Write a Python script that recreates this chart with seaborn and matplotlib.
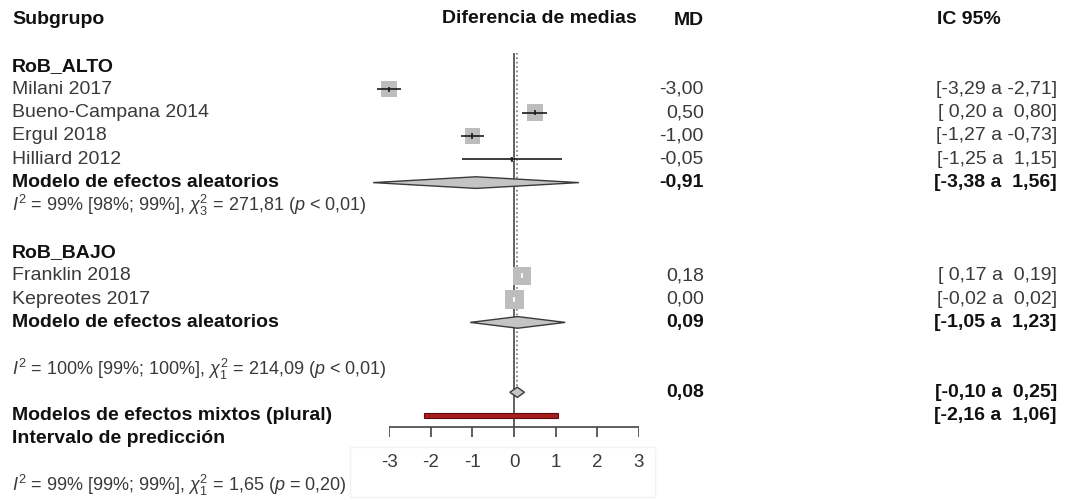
import numpy as np
import pandas as pd
import seaborn as sns
import matplotlib.pyplot as plt
from matplotlib.patches import Polygon, Rectangle
from matplotlib.transforms import blended_transform_factory

# study level data
studies = ["Milani 2017", "Bueno-Campana 2014", "Ergul 2018", "Hilliard 2012",
           "Franklin 2018", "Kepreotes 2017"]
subgroup = ["RoB_ALTO", "RoB_ALTO", "RoB_ALTO", "RoB_ALTO", "RoB_BAJO", "RoB_BAJO"]
md = [-3.00, 0.50, -1.00, -0.05, 0.18, 0.00]
ci_lo = [-3.29, 0.20, -1.27, -1.25, 0.17, -0.02]
ci_hi = [-2.71, 0.80, -0.73, 1.15, 0.19, 0.02]

# pooled estimates per subgroup
groups = ["RoB_ALTO", "RoB_BAJO"]
pooled_md = [-0.91, 0.09]
pooled_lo = [-3.38, -1.05]
pooled_hi = [1.56, 1.23]
het_text = [r"$I^2$ = 99% [98%; 99%], $\chi^2_3$ = 271,81 ($p$ < 0,01)",
            r"$I^2$ = 100% [99%; 100%], $\chi^2_1$ = 214,09 ($p$ < 0,01)"]

# overall model + prediction interval
overall_md, overall_lo, overall_hi = 0.08, -0.10, 0.25
pred_lo, pred_hi = -2.16, 1.06
overall_het = r"$I^2$ = 99% [99%; 99%], $\chi^2_1$ = 1,65 ($p$ = 0,20)"
xticks = [-3, -2, -1, 0, 1, 2, 3]

# box side in pixels (study weight)
box_px = [16, 16.5, 15.5, 4, 18, 19]

W, H = 1065, 500
ROW0, ROWH = 19.5, 23.3          # pixel y of row 0, row height
PX_PER_UNIT = 250 / 6


def fmt(v):
    return f"{v:.2f}".replace(".", ",")


def fmt_ci(lo, hi):
    return ("[" + f"{lo:5.2f} a {hi:5.2f}" + "]").replace(".", ",")


sns.set_style("white")
plt.rcParams["font.family"] = ["Liberation Sans", "DejaVu Sans"]
plt.rcParams["mathtext.fontset"] = "custom"
plt.rcParams["mathtext.rm"] = "Liberation Sans"
plt.rcParams["mathtext.it"] = "Liberation Sans:italic"

fig = plt.figure(figsize=(W / 100, H / 100), dpi=100)
ax = fig.add_axes([389 / W, 0, 250 / W, 1])
ax.set_xlim(-3, 3)
ax.set_ylim((H - ROW0) / ROWH, -ROW0 / ROWH)
ax.axis("off")

tr = blended_transform_factory(fig.transFigure, ax.transData)
REG = dict(fontsize=14, color="#3a3a3a", transform=tr, va="center")
BOLD = dict(fontsize=14, color="#111111", fontweight="bold", transform=tr, va="center")
SMALL = dict(fontsize=13, color="#3a3a3a", transform=tr, va="center")

X_LAB, X_MD, X_CI = 12 / W, 704 / W, 1057 / W

# headers
ax.text(X_LAB, 0, "Subgrupo", ha="left", **BOLD)
ax.text(539 / W, -0.05, "Diferencia de medias", ha="center", **BOLD)
ax.text(X_MD, 0.05, "MD", ha="right", **BOLD)
ax.text(937 / W, 0, "IC 95%", ha="left", **BOLD)

# layout rows
rows = []
pooled_rows = []
het_rows = []
r = 2
for gi, g in enumerate(groups):
    ax.text(X_LAB, r, g, ha="left", **BOLD)
    r += 1
    for i, s in enumerate(subgroup):
        if s == g:
            rows.append(r)
            r += 1
    pooled_rows.append(r)
    het_rows.append(r + 1 if gi == 0 else r + 2)
    r = r + 3
overall_row = het_rows[-1] + 1
pred_row = overall_row + 1
axis_row = pred_row + 0.5

df = pd.DataFrame({"study": studies, "md": md, "lo": ci_lo, "hi": ci_hi,
                   "row": rows, "area": [(p * 0.72) ** 2 for p in box_px]})

# study boxes
sns.scatterplot(data=df, x="md", y="row", marker="s", size="area",
                sizes={a: a for a in df["area"]}, color="#bdbdbd",
                linewidth=0, legend=False, ax=ax, zorder=3, clip_on=False)
for _, d in df.iterrows():
    half = d["area"] ** 0.5 / 0.72 / 2 / PX_PER_UNIT
    inside = (d["lo"] > d["md"] - half) and (d["hi"] < d["md"] + half)
    c = "white" if inside else "#1a1a1a"
    ax.hlines(d["row"], d["lo"], d["hi"], color=c, lw=1.2, zorder=4, clip_on=False)
    ax.vlines(d["md"], d["row"] - 0.11, d["row"] + 0.11, color=c, lw=1.2,
              zorder=4, clip_on=False)
    ax.text(X_MD, d["row"], fmt(d["md"]), ha="right", **REG)
    ax.text(X_CI, d["row"], fmt_ci(d["lo"], d["hi"]), ha="right", **REG)
    ax.text(X_LAB, d["row"], d["study"], ha="left", **REG)


def diamond(est, lo, hi, row, h):
    ax.add_patch(Polygon([(lo, row), (est, row - h), (hi, row), (est, row + h)],
                         closed=True, fc="#c4c4c4", ec="#3a3a3a", lw=1,
                         zorder=5, clip_on=False))


for gi in range(len(groups)):
    pr = pooled_rows[gi]
    diamond(pooled_md[gi], pooled_lo[gi], pooled_hi[gi], pr, 0.25)
    ax.text(X_LAB, pr, "Modelo de efectos aleatorios", ha="left", **BOLD)
    ax.text(X_MD, pr, fmt(pooled_md[gi]), ha="right", **BOLD)
    ax.text(X_CI, pr, fmt_ci(pooled_lo[gi], pooled_hi[gi]), ha="right", **BOLD)
    ax.text(X_LAB, het_rows[gi], het_text[gi], ha="left", **SMALL)

# overall
diamond(overall_md, overall_lo, overall_hi, overall_row, 0.22)
ax.text(X_MD, overall_row, fmt(overall_md), ha="right", **BOLD)
ax.text(X_CI, overall_row, fmt_ci(overall_lo, overall_hi), ha="right", **BOLD)
ax.text(X_LAB, pred_row, "Modelos de efectos mixtos (plural)", ha="left", **BOLD)
ax.text(X_LAB, pred_row + 1, "Intervalo de predicción", ha="left", **BOLD)
ax.text(X_CI, pred_row, fmt_ci(pred_lo, pred_hi), ha="right", **BOLD)
ax.text(X_LAB, pred_row + 3, overall_het, ha="left", **SMALL)

# prediction interval bar
ax.add_patch(Rectangle((pred_lo, pred_row - 0.1), pred_hi - pred_lo, 0.2,
                       fc="#a51d1d", ec="#5e0c0c", lw=0.8, zorder=5))

# reference lines
ax.vlines(0, 1.45, axis_row, color="#555555", lw=1.3, zorder=2)
ax.vlines(overall_md, 1.45, overall_row - 0.25, color="#777777", lw=1.2,
          linestyles=":", zorder=2)

# x axis
ax.hlines(axis_row, xticks[0], xticks[-1], color="#444444", lw=1.2)
ax.vlines(xticks, axis_row, axis_row + 10 / ROWH, color="#444444", lw=1.2)
for t in xticks:
    ax.text(t, axis_row + 1.5, f"{t}", ha="center", va="center",
            fontsize=13.5, color="#3a3a3a")

# faint frame around the tick labels
fig.add_artist(Rectangle((350 / W, 3 / H), 305 / W, 50 / H, transform=fig.transFigure,
                         fill=False, ec="#f3f3f3", lw=1))

fig.savefig("out.png", dpi=100)
